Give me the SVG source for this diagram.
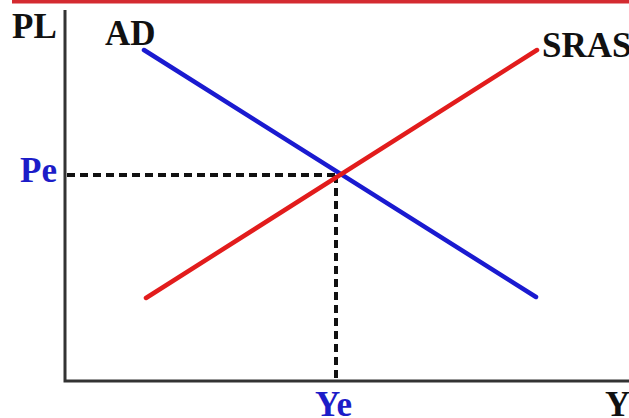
<svg xmlns="http://www.w3.org/2000/svg" width="629" height="418" viewBox="0 0 629 418">
<style>
.lbl{font-family:"Liberation Serif","Times New Roman",serif;font-weight:bold;font-size:35px}
.blk{fill:#111}
.blu{fill:#1c1cc8}
.axis{stroke:#333;stroke-width:3;fill:none}
.dash{stroke:#111;stroke-width:4;stroke-dasharray:8 5;fill:none}
</style>
<rect x="12" y="0" width="617" height="3.5" fill="#d42a30"/>
<g id="axes">
<path class="axis" d="M65,10 V381 H629"/>
</g>
<g id="connectors">
<line class="dash" x1="67" y1="175" x2="338" y2="175"/>
<line class="dash" x1="336" y1="175" x2="336" y2="379"/>
</g>
<g id="AD">
<line x1="144" y1="50" x2="536" y2="297" stroke="#1a1ad0" stroke-width="4.5" stroke-linecap="round"/>
<text class="lbl blk" x="105" y="45">AD</text>
</g>
<g id="SRAS">
<line x1="146" y1="298" x2="537" y2="50" stroke="#e21c1c" stroke-width="4.5" stroke-linecap="round"/>
<text class="lbl blk" x="542" y="57">SRAS</text>
</g>
<g id="labels">
<text class="lbl blk" x="12" y="38">PL</text>
<text class="lbl blu" x="20" y="182">Pe</text>
<text class="lbl blu" x="315" y="416">Ye</text>
<text class="lbl blk" x="605" y="416">Y</text>
</g>
</svg>
